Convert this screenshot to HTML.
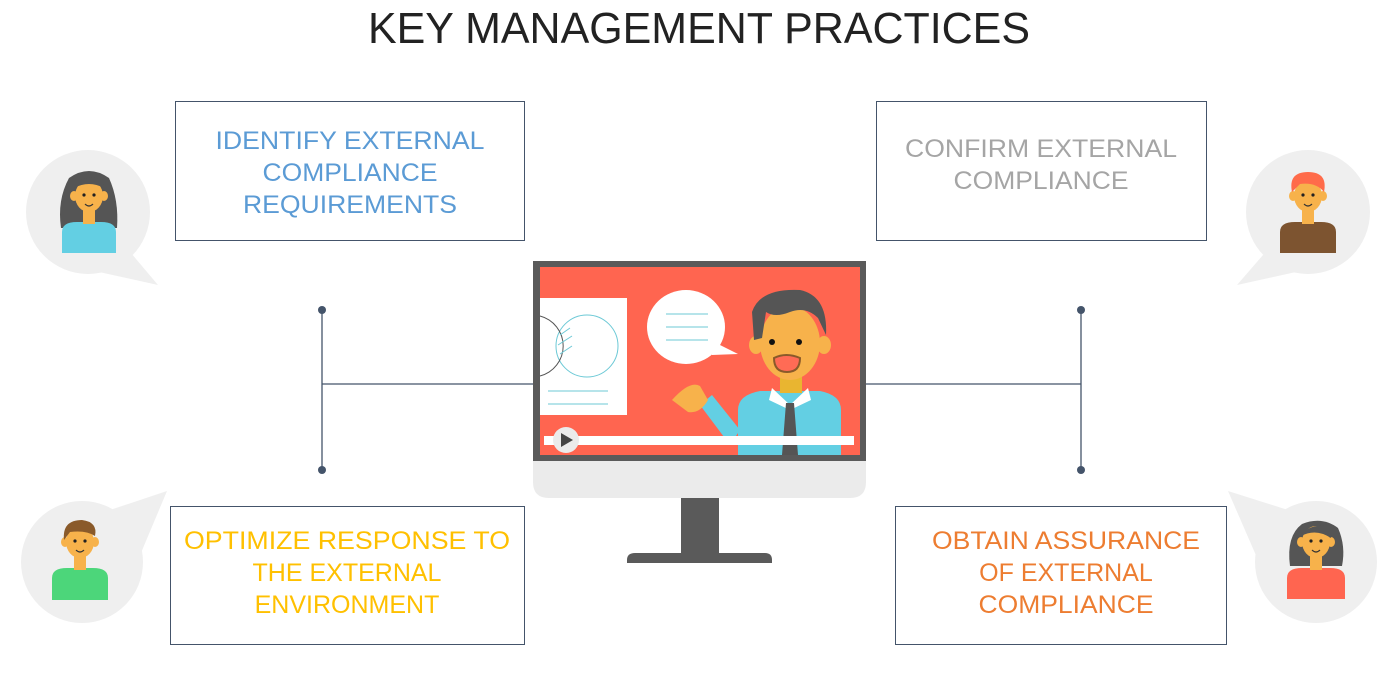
<!DOCTYPE html>
<html><head><meta charset="utf-8"><style>
html,body{margin:0;padding:0;background:#fff;}
svg{display:block;}
text{font-family:"Liberation Sans",Arial,sans-serif;}
</style></head><body>
<svg width="1398" height="678" viewBox="0 0 1398 678" xmlns="http://www.w3.org/2000/svg">
<defs>
<g id="face">
  <rect x="-6" y="0" width="12" height="14" fill="#f7b24b"/>
  <ellipse cx="-15" cy="-14" rx="4" ry="5" fill="#f7b24b"/>
  <ellipse cx="15" cy="-14" rx="4" ry="5" fill="#f7b24b"/>
  <ellipse cx="0" cy="-14" rx="14" ry="16" fill="#f7b24b"/>
  <circle cx="-5" cy="-15" r="1.6" fill="#222"/>
  <circle cx="5" cy="-15" r="1.6" fill="#222"/>
  <path d="M-4 -6 Q0 -2 4 -6" stroke="#333" stroke-width="1.2" fill="none"/>
</g>
</defs>

<text x="699" y="43" font-size="44" text-anchor="middle" fill="#222" textLength="662" lengthAdjust="spacingAndGlyphs">KEY MANAGEMENT PRACTICES</text>

<g fill="#fff" stroke="#44546a" stroke-width="1">
<rect x="175.5" y="101.5" width="349" height="139"/>
<rect x="876.5" y="101.5" width="330" height="139"/>
<rect x="170.5" y="506.5" width="354" height="138"/>
<rect x="895.5" y="506.5" width="331" height="138"/>
</g>
<g font-size="25" text-anchor="middle">
<g fill="#5b9bd5">
<text x="350" y="149" textLength="269" lengthAdjust="spacingAndGlyphs">IDENTIFY EXTERNAL</text>
<text x="350" y="181" textLength="175" lengthAdjust="spacingAndGlyphs">COMPLIANCE</text>
<text x="350" y="213" textLength="214" lengthAdjust="spacingAndGlyphs">REQUIREMENTS</text>
</g>
<g fill="#a5a5a5">
<text x="1041" y="157" textLength="272" lengthAdjust="spacingAndGlyphs">CONFIRM EXTERNAL</text>
<text x="1041" y="189" textLength="175" lengthAdjust="spacingAndGlyphs">COMPLIANCE</text>
</g>
<g fill="#ffc000">
<text x="347" y="549" textLength="326" lengthAdjust="spacingAndGlyphs">OPTIMIZE RESPONSE TO</text>
<text x="347" y="581">THE EXTERNAL</text>
<text x="347" y="613">ENVIRONMENT</text>
</g>
<g fill="#ed7d31">
<text x="1066" y="549" textLength="268" lengthAdjust="spacingAndGlyphs">OBTAIN ASSURANCE</text>
<text x="1066" y="581">OF EXTERNAL</text>
<text x="1066" y="613" textLength="175" lengthAdjust="spacingAndGlyphs">COMPLIANCE</text>
</g>
</g>

<g stroke="#44546a" stroke-width="1.3" fill="none">
<line x1="322" y1="310" x2="322" y2="470"/>
<line x1="322" y1="384" x2="535" y2="384"/>
<line x1="1081" y1="310" x2="1081" y2="470"/>
<line x1="865" y1="384" x2="1081" y2="384"/>
</g>
<g fill="#44546a">
<circle cx="322" cy="310" r="4"/><circle cx="322" cy="470" r="4"/>
<circle cx="1081" cy="310" r="4"/><circle cx="1081" cy="470" r="4"/>
</g>

<path d="M533 458 H866 V482 Q866 498 850 498 H549 Q533 498 533 482 Z" fill="#ebebeb"/>
<rect x="533" y="261" width="333" height="200" fill="#5a5a5a"/>
<rect x="540" y="267" width="320" height="188" fill="#ff6550"/>
<rect x="681" y="498" width="38" height="55" fill="#5a5a5a"/>
<path d="M635 553 H765 Q772 553 772 560 V563 H627 V560 Q627 553 635 553 Z" fill="#5a5a5a"/>
<rect x="540" y="298" width="87" height="117" fill="#fff"/>
<circle cx="587" cy="346" r="31" fill="none" stroke="#6cc9d6" stroke-width="1"/>
<path d="M540 316 A31 31 0 0 1 540 376" fill="none" stroke="#555" stroke-width="1"/>
<g stroke="#6cc9d6"><line x1="560" y1="335" x2="570" y2="328"/><line x1="558" y1="345" x2="572" y2="336"/><line x1="560" y1="354" x2="572" y2="346"/></g>
<line x1="548" y1="391" x2="608" y2="391" stroke="#6cc9d6"/>
<line x1="548" y1="404" x2="608" y2="404" stroke="#6cc9d6"/>
<ellipse cx="686" cy="327" rx="39" ry="37" fill="#fff"/>
<path d="M710 340 L738 354 L712 355 Z" fill="#fff"/>
<g stroke="#6cc9d6"><line x1="666" y1="314" x2="708" y2="314"/><line x1="666" y1="327" x2="708" y2="327"/><line x1="666" y1="340" x2="708" y2="340"/></g>
<path d="M738 455 V410 Q738 395 760 391 L820 391 Q841 395 841 410 V455 Z" fill="#63cfe3"/>
<path d="M700 405 L730 445 L740 430 L712 395 Z" fill="#63cfe3"/>
<path d="M672 400 Q690 380 700 386 L708 400 Q700 414 688 412 Z" fill="#f7b24b"/>
<rect x="780" y="375" width="22" height="18" fill="#e9b530"/>
<path d="M772 388 L790 405 L808 388 L811 400 L790 410 L769 400 Z" fill="#fff"/>
<path d="M786 403 L794 403 L798 455 L782 455 Z" fill="#555"/>
<ellipse cx="756" cy="345" rx="7" ry="9" fill="#f7b24b"/>
<ellipse cx="824" cy="345" rx="7" ry="9" fill="#f7b24b"/>
<ellipse cx="790" cy="343" rx="30" ry="37" fill="#f7b24b"/>
<path d="M754 340 L752 312 Q760 288 800 290 Q828 296 826 335 L818 318 Q806 306 790 312 Q775 318 766 312 L762 338 Z" fill="#555"/>
<circle cx="772" cy="342" r="3" fill="#111"/><circle cx="799" cy="342" r="3" fill="#111"/>
<path d="M774 358 Q786 352 800 358 Q800 372 787 372 Q774 372 774 358 Z" fill="#ff6b55" stroke="#8a5a2a" stroke-width="2"/>
<rect x="544" y="436" width="310" height="9" fill="#fff"/>
<circle cx="566" cy="440" r="13" fill="#ebebeb"/>
<path d="M561 433 L573 440 L561 447 Z" fill="#444"/>

<g fill="#efefef">
<circle cx="88" cy="212" r="62"/><path d="M120 240 L158 285 L90 270 Z"/>
<circle cx="1308" cy="212" r="62"/><path d="M1276 240 L1237 285 L1305 270 Z"/>
<circle cx="82" cy="562" r="61"/><path d="M110 510 L167 491 L138 560 Z"/>
<circle cx="1316" cy="562" r="61"/><path d="M1288 510 L1228 491 L1258 560 Z"/>
</g>
<g transform="translate(89,210)">
<path d="M-28 18 Q-32 -10 -20 -32 Q0 -46 20 -32 Q30 -10 28 18 Z" fill="#555"/>
<path d="M-27 43 V22 Q-27 12 -12 12 H12 Q27 12 27 22 V43 Z" fill="#63cfe3"/>
<use href="#face"/>
<path d="M-15 -22 Q-10 -34 8 -32 Q16 -28 15 -22 Q0 -30 -15 -22 Z" fill="#555"/>
</g>
<g transform="translate(1308,210)">
<path d="M-28 43 V22 Q-28 12 -13 12 H13 Q28 12 28 22 V43 Z" fill="#7d5430"/>
<use href="#face"/>
<path d="M-16 -18 Q-20 -38 0 -38 Q20 -38 16 -18 Q8 -28 -8 -26 Z" fill="#ff6b4a"/>
</g>
<g transform="translate(80,556)">
<path d="M-28 44 V22 Q-28 12 -13 12 H13 Q28 12 28 22 V44 Z" fill="#4cd67a"/>
<use href="#face"/>
<path d="M-16 -16 Q-18 -36 2 -36 Q18 -34 15 -20 Q6 -26 -10 -24 Z" fill="#8a5a2a"/>
</g>
<g transform="translate(1316,556)">
<path d="M-26 10 Q-30 -20 -14 -32 Q6 -40 22 -28 Q30 -10 26 10 Z" fill="#555"/>
<path d="M-29 43 V22 Q-29 12 -14 12 H14 Q29 12 29 22 V43 Z" fill="#ff6550"/>
<use href="#face"/>
<path d="M-15 -20 Q-8 -32 10 -30 Q16 -26 15 -18 Q0 -28 -15 -20 Z" fill="#555"/>
</g>
</svg>
</body></html>
